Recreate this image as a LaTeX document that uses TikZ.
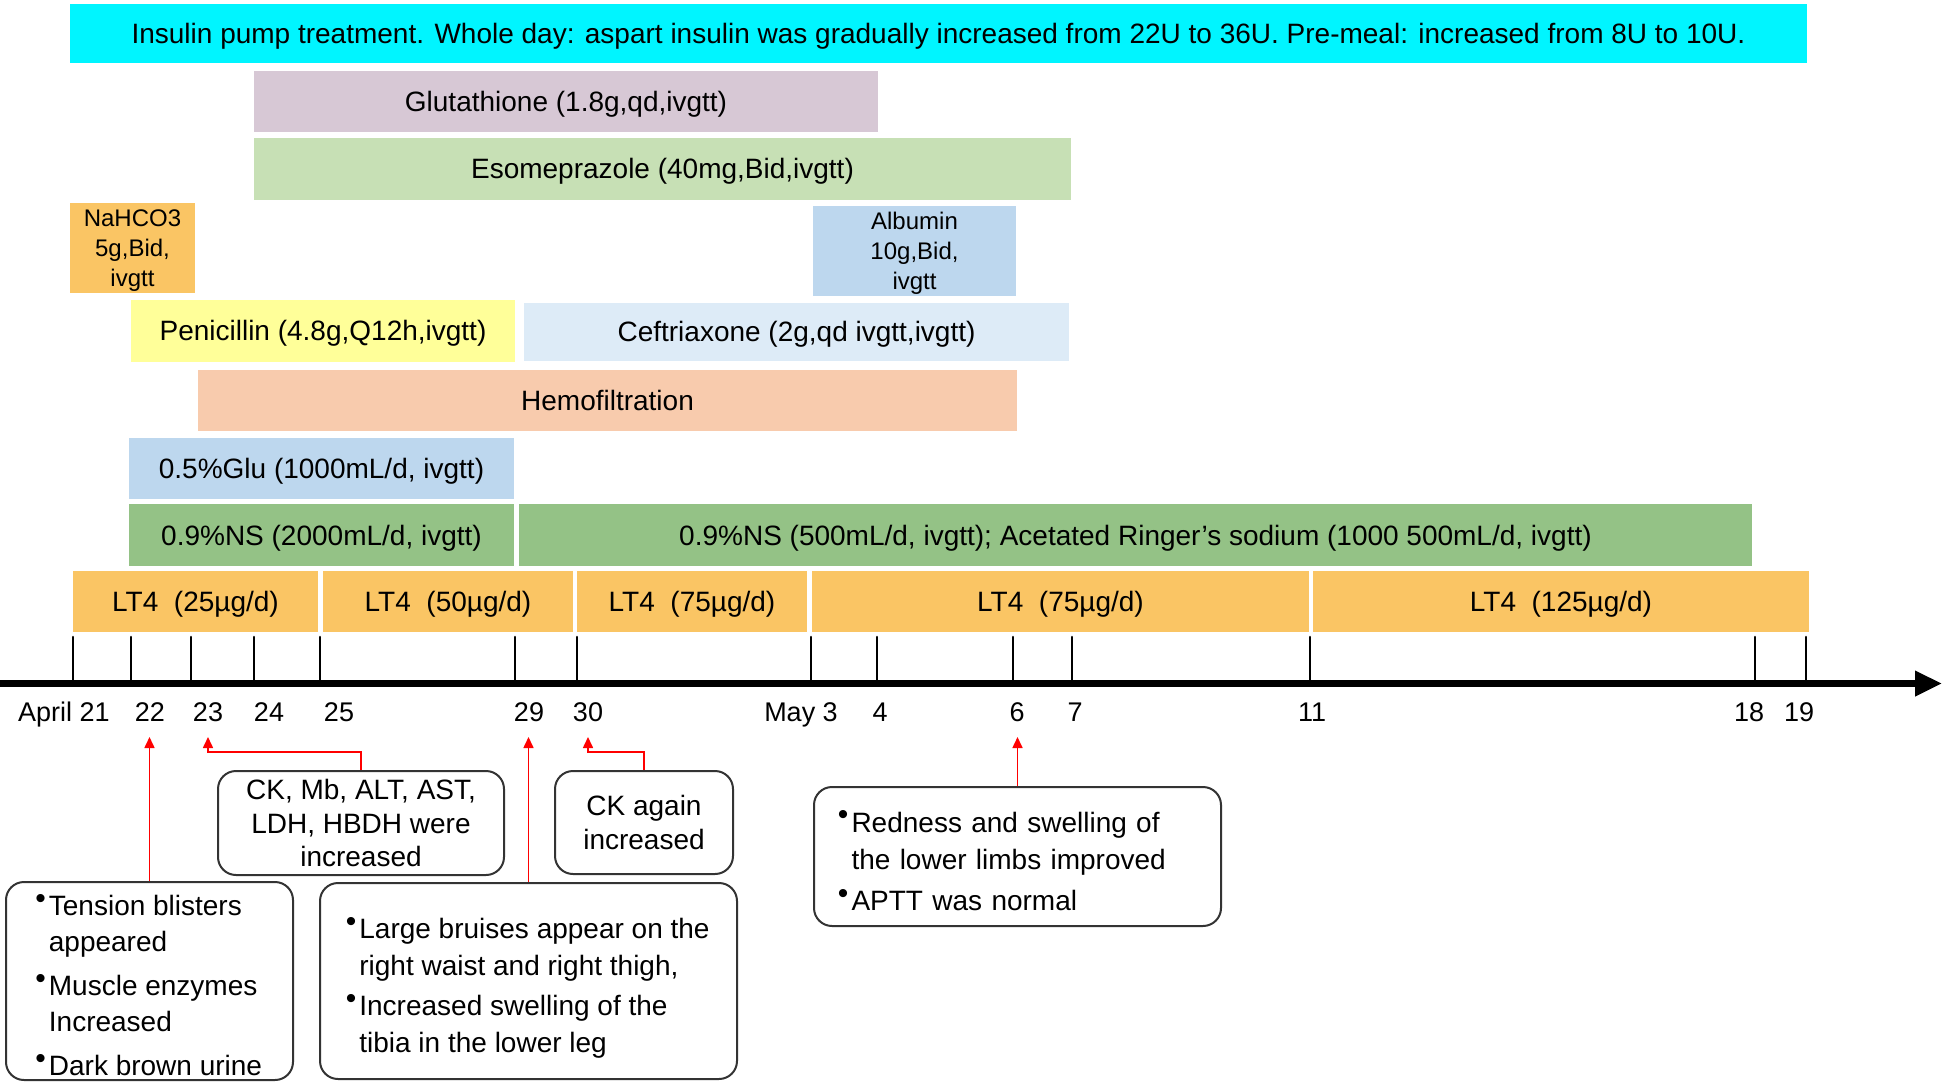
\documentclass[tikz,border=0pt]{standalone}
\usepackage{fontspec}
\setmainfont{Liberation Sans}
\usetikzlibrary{arrows.meta}
\definecolor{cCyan}{HTML}{00F5FF}
\definecolor{cGlut}{HTML}{D7C8D5}
\definecolor{cEso}{HTML}{C7E0B5}
\definecolor{cOrange}{HTML}{FAC564}
\definecolor{cBlue}{HTML}{BDD7EE}
\definecolor{cYellow}{HTML}{FFFF99}
\definecolor{cLightBlue}{HTML}{DDEBF7}
\definecolor{cPeach}{HTML}{F8CBAD}
\definecolor{cGreen}{HTML}{94C286}
\newcommand\gbar[7]{\node[barbox,text height=10pt,text depth=0pt,fill=#6,minimum width={0.5pt*(#4-#2)},minimum height={0.5pt*(#5-#3)}] (#1) at ({(#2+#4)/2},{(#3+#5)/2}) {#7};}
\newcommand\bul{\makebox[6pt][l]{\hspace*{-0.8pt}\raisebox{3.6pt}{\fontsize{15}{15}\selectfont •}}}
\newcommand\nob{\hspace*{6pt}}
\tikzset{
  barbox/.style={draw=none,inner sep=0pt,align=center,font=\fontsize{14}{16}\selectfont},
  smallbar/.style={font=\fontsize{12}{14.8}\selectfont},
  evbox/.style={draw=black!80,line width=1pt,rounded corners=9pt,inner sep=0pt,align=left,font=\fontsize{14}{18}\selectfont},
  cbox/.style={draw=black!80,line width=1pt,rounded corners=9pt,inner sep=0pt,align=center,font=\fontsize{14}{16.8}\selectfont},
  daylbl/.style={anchor=base,inner sep=0pt,font=\fontsize{13.5}{16}\selectfont},
  tickline/.style={line width=1.3pt,line cap=round},
  redarr/.style={draw=red,line width=0.8pt,-{Triangle[length=5.5pt,width=5pt]}}
}
\begin{document}
\begin{tikzpicture}[x=0.5pt,y=-0.5pt]
\useasboundingbox (0,0) rectangle (1946,1085);
% bars
\gbar{insulin}{70}{4}{1807}{63}{cCyan}{Insulin pump treatment. Whole day: aspart insulin was gradually increased from 22U to 36U. Pre-meal: increased from 8U to 10U.}
\gbar{glut}{254}{71}{878}{132}{cGlut}{Glutathione (1.8g,qd,ivgtt)}
\gbar{eso}{254}{138}{1071}{200}{cEso}{Esomeprazole (40mg,Bid,ivgtt)}
\node[barbox,smallbar,fill=cOrange,minimum width={0.5pt*125},minimum height={0.5pt*90}] (nahco) at (132.5,248) {\rule{0pt}{11pt}NaHCO3\\5g,Bid,\\ivgtt};
\node[barbox,smallbar,fill=cBlue,minimum width={0.5pt*203},minimum height={0.5pt*90}] (albumin) at (914.5,251) {\rule{0pt}{11pt}Albumin\\10g,Bid,\\ivgtt};
\gbar{pen}{131}{300}{515}{362}{cYellow}{Penicillin (4.8g,Q12h,ivgtt)}
\gbar{cef}{524}{303}{1069}{361}{cLightBlue}{Ceftriaxone (2g,qd ivgtt,ivgtt)}
\gbar{hemo}{198}{370}{1017}{431}{cPeach}{Hemofiltration}
\gbar{glu}{129}{438}{514}{499}{cBlue}{0.5\%Glu (1000mL/d, ivgtt)}
\gbar{nsa}{129}{504}{514}{566}{cGreen}{0.9\%NS (2000mL/d, ivgtt)}
\gbar{nsb}{519}{504}{1752}{566}{cGreen}{0.9\%NS (500mL/d, ivgtt); Acetated Ringer’s sodium (1000 500mL/d, ivgtt)}
\gbar{lta}{73}{571}{318}{632}{cOrange}{LT4\ \ (25µg/d)}
\gbar{ltb}{323}{571}{573}{632}{cOrange}{LT4\ \ (50µg/d)}
\gbar{ltc}{577}{571}{807}{632}{cOrange}{LT4\ \ (75µg/d)}
\gbar{ltd}{812}{571}{1309}{632}{cOrange}{LT4\ \ (75µg/d)}
\gbar{lte}{1313}{571}{1809}{632}{cOrange}{LT4\ \ (125µg/d)}
% axis
\coordinate (axs) at (0,683.5);
\coordinate (axe) at (1942,683.5);
\draw[line width=3.5pt,-{Triangle[length=13.5pt,width=12pt]}] (axs) -- (axe);
\foreach \t in {73,131,191,254,320,515,577,811,877,1013,1072,1310,1755,1806}
  \draw[tickline] (\t,637) -- (\t,683);
% day labels
\node[daylbl] (d21) at (64,721) {April 21};
\node[daylbl] (d22) at (150,721) {22};
\node[daylbl] (d23) at (208,721) {23};
\node[daylbl] (d24) at (269,721) {24};
\node[daylbl] (d25) at (339,721) {25};
\node[daylbl] (d29) at (529,721) {29};
\node[daylbl] (d30) at (588,721) {30};
\node[daylbl] (dm3) at (801,721) {May 3};
\node[daylbl] (dm4) at (880,721) {4};
\node[daylbl] (dm6) at (1017,721) {6};
\node[daylbl] (dm7) at (1075,721) {7};
\node[daylbl] (dm11) at (1312,721) {11};
\node[daylbl] (dm18) at (1749,721) {18};
\node[daylbl] (dm19) at (1799,721) {19};
% event boxes
\node[cbox,minimum width={0.5pt*286},minimum height={0.5pt*104}] (ck) at (361,823) {CK, Mb, ALT, AST,\\LDH, HBDH were\\increased};
\node[cbox,minimum width={0.5pt*178},minimum height={0.5pt*103}] (cka) at (644,822.5) {CK again\\increased};
\node[evbox,minimum width={0.5pt*287},minimum height={0.5pt*198}] (tb) at (149.5,981) {\rule{0pt}{14.5pt}\bul Tension blisters\\\nob appeared\\[4pt]\bul Muscle enzymes\\\nob Increased\\[4pt]\bul Dark brown urine};
\node[evbox,font=\fontsize{14}{18.6}\selectfont,minimum width={0.5pt*417},minimum height={0.5pt*196}] (lb) at (528.5,981) {\rule{0pt}{17.5pt}\bul Large bruises appear on the\\\nob right waist and right thigh,\\[1.5pt]\bul Increased swelling of the\\\nob tibia in the lower leg};
\node[evbox,font=\fontsize{14}{18.6}\selectfont,text width=178pt,minimum width={0.5pt*407},minimum height={0.5pt*139}] (rd) at (1017.5,856.5) {\rule{0pt}{15pt}\bul Redness and swelling of\\\nob the lower limbs improved\\[2pt]\bul APTT was normal};
% red arrows
\coordinate (a22) at (149,737);
\coordinate (a23) at (208,737);
\coordinate (a29) at (529,737);
\coordinate (a30) at (588,737);
\coordinate (a6) at (1018,737);
\draw[redarr] (tb.north) -- (tb.north |- a22);
\draw[redarr] (ck.north) -- ++(0,-18) -| (a23);
\draw[redarr] (lb.north) -- (lb.north |- a29);
\draw[redarr] (cka.north) -- ++(0,-18) -| (a30);
\draw[redarr] (rd.north) -- (rd.north |- a6);
\end{tikzpicture}
\end{document}
